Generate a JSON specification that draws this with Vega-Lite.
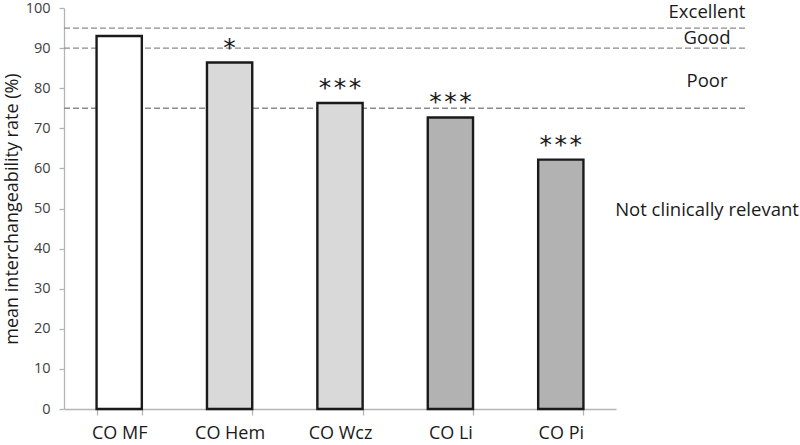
{
  "$schema": "https://vega.github.io/schema/vega-lite/v6.json",
  "width": 681,
  "height": 401,
  "autosize": "none",
  "padding": {"left": 64, "top": 8, "right": 55, "bottom": 36},
  "background": "white",
  "config": {
    "view": {"stroke": null},
    "font": "Open Sans"
  },
  "datasets": {
    "bars": [
      {"method": "CO MF", "rate": 93.0, "shade": "white", "stars": ""},
      {"method": "CO Hem", "rate": 86.4, "shade": "light", "stars": "*"},
      {"method": "CO Wcz", "rate": 76.3, "shade": "light", "stars": "*\u200a*\u200a*"},
      {"method": "CO Li", "rate": 72.7, "shade": "dark", "stars": "*\u200a*\u200a*"},
      {"method": "CO Pi", "rate": 62.2, "shade": "dark", "stars": "*\u200a*\u200a*"}
    ],
    "thresholds": [
      {"level": 95},
      {"level": 90},
      {"level": 75}
    ],
    "zones": [
      {"zone": "Excellent", "pos": 98.9},
      {"zone": "Good", "pos": 92.4},
      {"zone": "Poor", "pos": 81.8},
      {"zone": "Not clinically relevant", "pos": 49.7}
    ]
  },
  "layer": [
    {
      "data": {"name": "thresholds"},
      "mark": {"type": "rule", "stroke": "#8c8c8c", "strokeWidth": 1.3, "strokeDash": [6, 3]},
      "encoding": {
        "y": {"field": "level", "type": "quantitative", "scale": {"domain": [0, 100]}}
      }
    },
    {
      "data": {"name": "bars"},
      "mark": {"type": "bar", "stroke": "#1a1a1a", "strokeWidth": 2.4},
      "encoding": {
        "x": {
          "field": "method", "type": "nominal", "sort": null,
          "scale": {"range": [0, 552], "paddingInner": 0.59, "paddingOuter": 0.295},
          "axis": {
            "title": null, "labelAngle": 0, "labelFont": "Open Sans", "labelFontSize": 18,
            "labelColor": "#1a1a1a", "labelPadding": 9, "domainColor": "#b4b4b4",
            "domainWidth": 1.3, "tickColor": "#b4b4b4", "tickSize": 6, "tickWidth": 1.3,
            "tickBand": "extent"
          }
        },
        "y": {
          "field": "rate", "type": "quantitative",
          "scale": {"domain": [0, 100], "nice": false},
          "axis": {
            "title": "mean interchangeability rate (%)",
            "titleFont": "Open Sans", "titleFontSize": 18, "titleFontWeight": "normal",
            "titleColor": "#1a1a1a", "titlePadding": 4,
            "values": [0, 5, 10, 15, 20, 25, 30, 35, 40, 45, 50, 55, 60, 65, 70, 75, 80, 85, 90, 95, 100],
            "labelExpr": "datum.value % 10 == 0 ? datum.label : ''",
            "labelFont": "Open Sans", "labelFontSize": 14.5, "labelColor": "#404040",
            "labelPadding": 9, "grid": false,
            "domainColor": "#b4b4b4", "domainWidth": 1.3,
            "tickColor": "#b4b4b4", "tickSize": 5, "tickWidth": 1.3
          }
        },
        "fill": {
          "field": "shade", "type": "nominal",
          "scale": {"domain": ["white", "light", "dark"], "range": ["#ffffff", "#d9d9d9", "#b2b2b2"]},
          "legend": null
        }
      }
    },
    {
      "data": {"name": "bars"},
      "mark": {"type": "text", "font": "DejaVu Sans", "fontSize": 25, "color": "#1a1a1a", "baseline": "alphabetic", "align": "center", "dy": -7},
      "encoding": {
        "x": {"field": "method", "type": "nominal", "sort": null},
        "y": {"field": "rate", "type": "quantitative"},
        "text": {"field": "stars"}
      }
    },
    {
      "data": {"name": "zones"},
      "mark": {"type": "text", "font": "Open Sans", "fontSize": 18.5, "color": "#1a1a1a", "baseline": "middle", "align": "center", "dx": -38},
      "encoding": {
        "x": {"value": "width"},
        "y": {"field": "pos", "type": "quantitative"},
        "text": {"field": "zone"}
      }
    }
  ]
}
